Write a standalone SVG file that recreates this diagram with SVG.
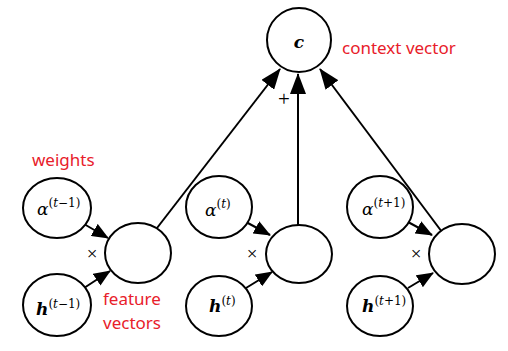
<svg xmlns="http://www.w3.org/2000/svg" width="508" height="351" viewBox="0 0 508 351">
  <style>
    .node { fill: #ffffff; stroke: #000000; stroke-width: 2; }
    .edge { stroke: #000000; stroke-width: 2; fill: none; }
    .math { font-family: "DejaVu Serif", "Liberation Serif", serif; font-style: italic; fill: #000000; }
    .sup { font-style: normal; font-weight: normal; font-size: 12px; }
    .var { font-style: italic; }
    .sym { font-family: "Liberation Serif", "DejaVu Serif", serif; fill: #000000; }
    .note { font-family: "Noto Sans", "DejaVu Sans", sans-serif; font-size: 17px; fill: #e8202a; }
  </style>
  <defs>
    <marker id="head" markerUnits="userSpaceOnUse" markerWidth="21" markerHeight="16" refX="20" refY="8" orient="auto">
      <path d="M0,0 L21,8 L0,16 Z" fill="#000000"/>
    </marker>
    <marker id="headSmall" markerUnits="userSpaceOnUse" markerWidth="17" markerHeight="14" refX="16" refY="7" orient="auto">
      <path d="M0,0 L17,7 L0,14 Z" fill="#000000"/>
    </marker>
  </defs>

  <!-- connectors -->
  <g id="connectors">
    <line class="edge" x1="157" y1="228" x2="280" y2="69" marker-end="url(#head)"/>
    <line class="edge" x1="298" y1="225" x2="298" y2="74" marker-end="url(#head)"/>
    <line class="edge" x1="442" y1="232" x2="320" y2="69" marker-end="url(#head)"/>

    <line class="edge" x1="84" y1="224" x2="108" y2="238" marker-end="url(#headSmall)"/>
    <line class="edge" x1="84" y1="288" x2="110" y2="271" marker-end="url(#headSmall)"/>
    <line class="edge" x1="246" y1="222" x2="270" y2="235" marker-end="url(#headSmall)"/>
    <line class="edge" x1="246" y1="288" x2="272" y2="272" marker-end="url(#headSmall)"/>
    <line class="edge" x1="408" y1="222" x2="432" y2="235" marker-end="url(#headSmall)"/>
    <line class="edge" x1="408" y1="288" x2="433" y2="273" marker-end="url(#headSmall)"/>
  </g>

  <!-- operators -->
  <g id="operators" class="sym">
    <text x="284" y="106" font-size="21" text-anchor="middle">+</text>
    <text x="92" y="260" font-size="19" text-anchor="middle">×</text>
    <text x="252" y="260" font-size="19" text-anchor="middle">×</text>
    <text x="416" y="260" font-size="19" text-anchor="middle">×</text>
  </g>

  <!-- context vector -->
  <g id="c">
    <ellipse class="node" cx="299" cy="40" rx="32" ry="32"/>
    <text class="math" x="299" y="48" font-size="17" font-weight="bold" text-anchor="middle">c</text>
  </g>

  <!-- left column -->
  <g id="alpha-prev">
    <ellipse class="node" cx="57" cy="208" rx="34" ry="30"/>
    <text class="math" x="37" y="215" font-size="17">α<tspan class="sup" dy="-8">(<tspan class="var">t</tspan>−1)</tspan></text>
  </g>
  <g id="h-prev">
    <ellipse class="node" cx="57" cy="305" rx="34" ry="31"/>
    <text class="math" x="36" y="315" font-size="17" font-weight="bold">h<tspan class="sup" dy="-7">(<tspan class="var">t</tspan>−1)</tspan></text>
  </g>
  <g id="prod-prev">
    <ellipse class="node" cx="138" cy="253" rx="33" ry="30"/>
  </g>

  <!-- middle column -->
  <g id="alpha-cur">
    <ellipse class="node" cx="219" cy="207" rx="33" ry="31"/>
    <text class="math" x="205" y="216" font-size="17">α<tspan class="sup" dy="-8">(<tspan class="var">t</tspan>)</tspan></text>
  </g>
  <g id="h-cur">
    <ellipse class="node" cx="219" cy="306" rx="33" ry="30"/>
    <text class="math" x="209" y="312" font-size="17" font-weight="bold">h<tspan class="sup" dy="-7">(<tspan class="var">t</tspan>)</tspan></text>
  </g>
  <g id="prod-cur">
    <ellipse class="node" cx="299" cy="254" rx="33" ry="29"/>
  </g>

  <!-- right column -->
  <g id="alpha-next">
    <ellipse class="node" cx="380" cy="207" rx="33" ry="31"/>
    <text class="math" x="362" y="215" font-size="17">α<tspan class="sup" dy="-8">(<tspan class="var">t</tspan>+1)</tspan></text>
  </g>
  <g id="h-next">
    <ellipse class="node" cx="380" cy="306" rx="33" ry="30"/>
    <text class="math" x="362" y="312" font-size="17" font-weight="bold">h<tspan class="sup" dy="-7">(<tspan class="var">t</tspan>+1)</tspan></text>
  </g>
  <g id="prod-next">
    <ellipse class="node" cx="462" cy="254" rx="33" ry="30"/>
  </g>

  <!-- annotations -->
  <g id="labels" class="note">
    <text x="342" y="54">context vector</text>
    <text x="32" y="166">weights</text>
    <text x="103" y="305">feature</text>
    <text x="103" y="329">vectors</text>
  </g>
</svg>
